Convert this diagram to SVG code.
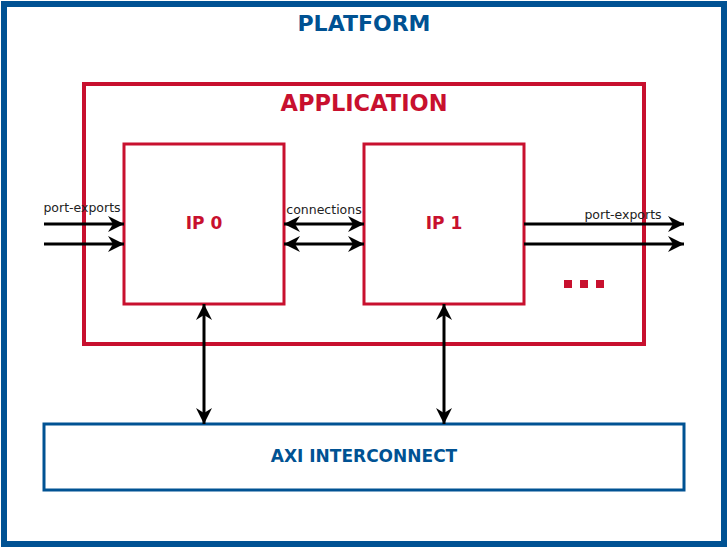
<svg xmlns="http://www.w3.org/2000/svg" width="728" height="548" viewBox="0 0 728 548">
<defs>
<marker id="ah" viewBox="0 0 16 16" refX="16" refY="8" markerWidth="16" markerHeight="16" markerUnits="userSpaceOnUse" orient="auto-start-reverse">
<path d="M0,0 L16,8 L0,16 L5,8 Z" fill="#000"/>
</marker>
<style>
.blue{fill:#fff;stroke:#005293}
.red{fill:#fff;stroke:#c8102e}
.t{font-family:"DejaVu Sans",sans-serif;font-weight:bold;text-anchor:middle}
.lbl{font-family:"DejaVu Sans",sans-serif;font-size:12.5px;fill:#222;text-anchor:middle}
.c{stroke:#000;stroke-width:3;fill:none}
</style>
</defs>
<g id="platform">
<rect class="blue" x="4" y="4" width="720" height="540" stroke-width="6"/>
<text class="t" x="364" y="31" font-size="22" fill="#005293">PLATFORM</text>
</g>
<g id="application">
<rect class="red" x="84" y="84" width="560" height="260" stroke-width="4"/>
<text class="t" x="364" y="111" font-size="22.5" fill="#c8102e">APPLICATION</text>
</g>
<g id="ip0">
<rect class="red" x="124" y="144" width="160" height="160" stroke-width="3"/>
<text class="t" x="204" y="229" font-size="17" fill="#c8102e">IP 0</text>
</g>
<g id="ip1">
<rect class="red" x="364" y="144" width="160" height="160" stroke-width="3"/>
<text class="t" x="444" y="229" font-size="17" fill="#c8102e">IP 1</text>
</g>
<g id="dots" fill="#c8102e">
<rect x="564" y="280" width="8" height="8"/>
<rect x="580" y="280" width="8" height="8"/>
<rect x="596" y="280" width="8" height="8"/>
</g>
<g id="axi">
<rect class="blue" x="44" y="424" width="640" height="66" stroke-width="3"/>
<text class="t" x="364" y="462" font-size="17" fill="#005293">AXI INTERCONNECT</text>
</g>
<g id="connectors">
<line class="c" x1="44" y1="224" x2="124" y2="224" marker-end="url(#ah)"/>
<line class="c" x1="44" y1="244" x2="124" y2="244" marker-end="url(#ah)"/>
<line class="c" x1="284" y1="224" x2="364" y2="224" marker-start="url(#ah)" marker-end="url(#ah)"/>
<line class="c" x1="284" y1="244" x2="364" y2="244" marker-start="url(#ah)" marker-end="url(#ah)"/>
<line class="c" x1="524" y1="224" x2="684" y2="224" marker-end="url(#ah)"/>
<line class="c" x1="524" y1="244" x2="684" y2="244" marker-end="url(#ah)"/>
<line class="c" x1="204" y1="304" x2="204" y2="424" marker-start="url(#ah)" marker-end="url(#ah)"/>
<line class="c" x1="444" y1="304" x2="444" y2="424" marker-start="url(#ah)" marker-end="url(#ah)"/>
<text class="lbl" x="82" y="212">port-exports</text>
<text class="lbl" x="324" y="214">connections</text>
<text class="lbl" x="623" y="219">port-exports</text>
</g>
</svg>
